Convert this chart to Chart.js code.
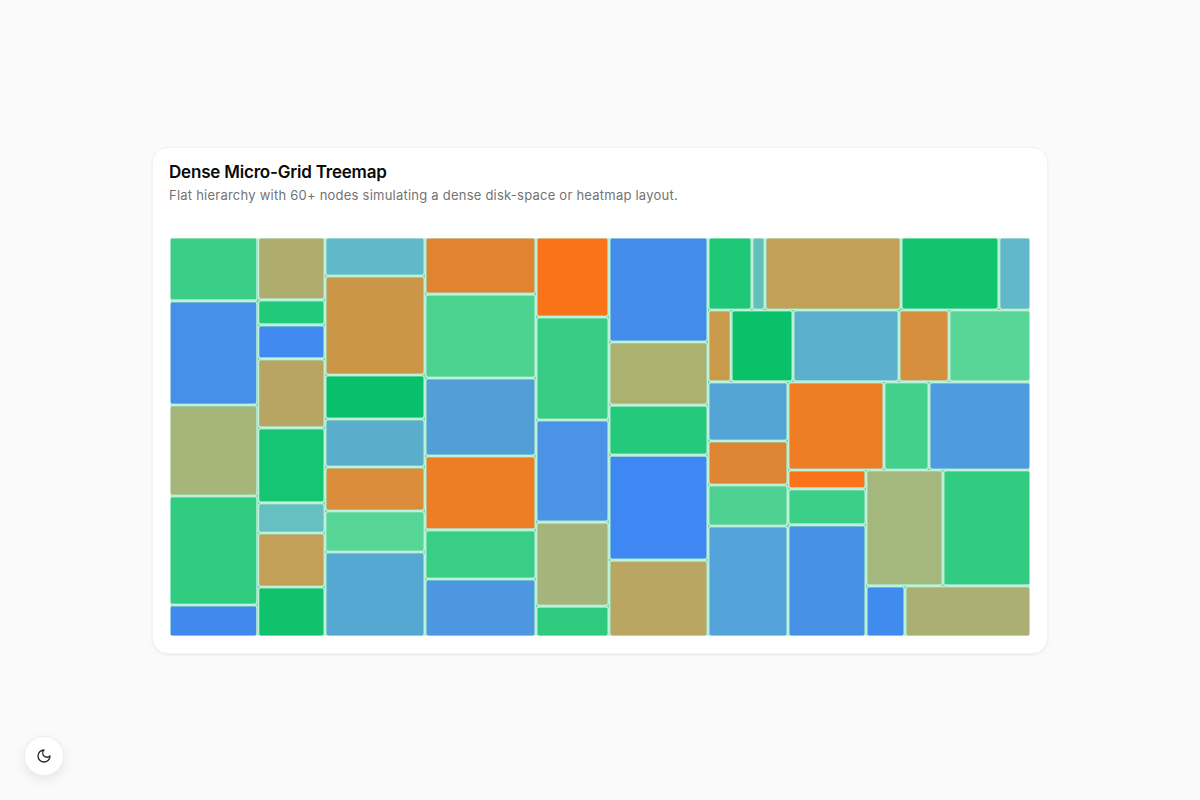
<!DOCTYPE html>
<html>
<head>
<meta charset="utf-8">
<title>Dense Micro-Grid Treemap</title>
<script src="https://cdn.jsdelivr.net/npm/chart.js@4/dist/chart.umd.min.js"></script>
<style>
  html, body { margin: 0; height: 100%; background: #fafafa; font-family: Inter, "Noto Sans", sans-serif; }
  .card {
    position: absolute; left: 152px; top: 147px; width: 896px; height: 507px; box-sizing: border-box;
    background: #fff; border: 1px solid #f3f3f3; border-radius: 16px;
    box-shadow: 0 1px 3px rgba(0, 0, 0, 0.07);
  }
  h1 {
    position: absolute; left: 16px; top: 12px; margin: 0; white-space: nowrap;
    font-size: 17px; line-height: 24px; font-weight: 600; letter-spacing: -0.2px; color: #0a0a0a;
  }
  p {
    position: absolute; left: 16px; top: 37px; margin: 0; white-space: nowrap;
    font-size: 13px; line-height: 20px; letter-spacing: 0.23px; color: #737373;
  }
  #chart { position: absolute; left: 16px; top: 89px; display: block; }
  .theme {
    position: absolute; left: 24px; top: 736px; width: 40px; height: 40px; border-radius: 50%;
    background: #fff; border: 1px solid #eee; box-sizing: border-box;
    box-shadow: 0 4px 12px rgba(0, 0, 0, 0.08);
    display: flex; align-items: center; justify-content: center;
  }
</style>
</head>
<body>
<div class="card">
  <h1>Dense Micro-Grid Treemap</h1>
  <p>Flat hierarchy with 60+ nodes simulating a dense disk-space or heatmap layout.</p>
  <canvas id="chart" width="862" height="400"></canvas>
</div>
<div class="theme">
  <svg width="16" height="16" viewBox="0 0 24 24" fill="none" stroke="#262626" stroke-width="2" stroke-linecap="round" stroke-linejoin="round"><path d="M12 3a6 6 0 0 0 9 9 9 9 0 1 1-9-9Z"/></svg>
</div>
<script>
// node sizes, in tile order
const nodeValues = [
  56.8, 92.4, 80.8, 96.8, 28.4,
  42.3, 16.8, 22.8, 46.4, 50.4, 20.2, 36.3, 33.6,
  39, 99, 44, 48, 44, 41, 85,
  63.3, 93.2, 86.6, 82.1, 54.4, 64.4,
  58.4, 75.2, 74.5, 61.3, 22.6,
  104, 62.4, 49.5, 104, 76.2,
  32.1, 9.5, 99.3, 71.5, 23.4,
  16.6, 44.6, 76.3, 36, 59,
  47.2, 35.2, 32.8, 88.8,
  84.5, 39.6, 89.8,
  14.8, 28.1, 87.4,
  89.3, 102.1,
  19.9, 64.3,
];

const nodeColors = [
  "#3bce86", "#4690ea", "#a6b57a", "#30cc80", "#4289ee",
  "#afad6e", "#20ca78", "#408af0", "#b8a563", "#15c572", "#66bfc0", "#c2a058", "#10c26c",
  "#60b8c8", "#cc9648", "#08c06a", "#5badcc", "#da8e3c", "#55d695", "#54a8d2",
  "#e08432", "#4dd38f", "#529fd8", "#ee7d25", "#38ce85", "#4c97e0",
  "#f97418", "#37cd85", "#4a93e5", "#a5b47b", "#2eca7e",
  "#448cec", "#adb16f", "#25c97b", "#3f88f4", "#b8a662",
  "#1ec877", "#62bfbc", "#c2a055", "#12c46e", "#60b8ca",
  "#c99a4a", "#08c169", "#5bb1cd", "#d68f3e", "#58d698",
  "#54a5d6", "#de8534", "#4fd291", "#54a3da",
  "#ef7d25", "#42d08b", "#4e9be0",
  "#f97418", "#3bcf88", "#4691e6",
  "#a4b87e", "#31cc82",
  "#408bee", "#abaf72",
];

const areaWidth = 862;
const areaHeight = 400;

// squarified layout, golden ratio target, nodes stay in the given order
function squarify(values, w, h) {
  const ratio = (1 + Math.sqrt(5)) / 2;
  const tiles = [];
  let x0 = 0, y0 = 0, x1 = w, y1 = h;
  let remaining = values.reduce((a, b) => a + b, 0);
  let i0 = 0;
  while (i0 < values.length) {
    const dx = x1 - x0, dy = y1 - y0;
    let i1 = i0 + 1;
    let sum = values[i0], min = sum, max = sum;
    const alpha = Math.max(dy / dx, dx / dy) / (remaining * ratio);
    let best = Math.max(max / (sum * sum * alpha), (sum * sum * alpha) / min);
    for (; i1 < values.length; i1++) {
      const v = values[i1];
      const nextMin = Math.min(min, v), nextMax = Math.max(max, v);
      const beta = (sum + v) * (sum + v) * alpha;
      const next = Math.max(nextMax / beta, beta / nextMin);
      if (next > best) break;
      sum += v; min = nextMin; max = nextMax; best = next;
    }
    if (dx < dy) {
      // row across the top
      const rowH = dy * sum / remaining;
      let x = x0;
      for (let i = i0; i < i1; i++) {
        const tw = dx * values[i] / sum;
        tiles.push({ x: x, y: y0, x1: x + tw, y1: y0 + rowH });
        x += tw;
      }
      y0 += rowH;
    } else {
      // column down the left
      const colW = dx * sum / remaining;
      let y = y0;
      for (let i = i0; i < i1; i++) {
        const th = dy * values[i] / sum;
        tiles.push({ x: x0, y: y, x1: x0 + colW, y1: y + th });
        y += th;
      }
      x0 += colW;
    }
    remaining -= sum;
    i0 = i1;
  }
  return tiles;
}

// no treemap type in core Chart.js, so a small controller that uses the bar element
class TreemapController extends Chart.DatasetController {
  update(mode) {
    const elements = this._cachedMeta.data;
    this.updateElements(elements, 0, elements.length, mode);
  }
  updateElements(elements, start, count, mode) {
    const { xScale, yScale } = this._cachedMeta;
    const data = this.getDataset().data;
    for (let i = start; i < start + count; i++) {
      const d = data[i];
      const left = xScale.getPixelForValue(d.x);
      const right = xScale.getPixelForValue(d.x1);
      const top = yScale.getPixelForValue(d.y);
      const bottom = yScale.getPixelForValue(d.y1);
      this.updateElement(elements[i], i, {
        x: (left + right) / 2,
        y: top,
        base: bottom,
        width: right - left,
        height: bottom - top,
        horizontal: false,
        borderSkipped: {},
        enableBorderRadius: true,
        inflateAmount: 0,
        options: this.resolveDataElementOptions(i, mode),
      }, mode);
    }
  }
}
TreemapController.id = "treemap";
TreemapController.defaults = { dataElementType: "bar" };
Chart.register(TreemapController);

new Chart(document.getElementById("chart").getContext("2d"), {
  type: "treemap",
  data: {
    datasets: [
      {
        data: squarify(nodeValues, areaWidth, areaHeight),
        backgroundColor: nodeColors,
        borderColor: "rgba(255, 255, 255, 0.55)",
        borderWidth: 1.6,
        borderRadius: 3,
      },
      {
        // root node sits under the tiles and shows through the gaps
        data: [{ x: 0, y: 0, x1: areaWidth, y1: areaHeight }],
        backgroundColor: "#74dcae",
        borderColor: "#ffffff",
        borderWidth: 1.6,
        borderRadius: 0,
      },
    ],
  },
  options: {
    responsive: false,
    animation: false,
    events: [],
    scales: {
      x: { type: "linear", display: false, min: 0, max: areaWidth },
      y: { type: "linear", display: false, min: 0, max: areaHeight, reverse: true },
    },
    plugins: { legend: { display: false }, tooltip: { enabled: false } },
  },
});
</script>
</body>
</html>
